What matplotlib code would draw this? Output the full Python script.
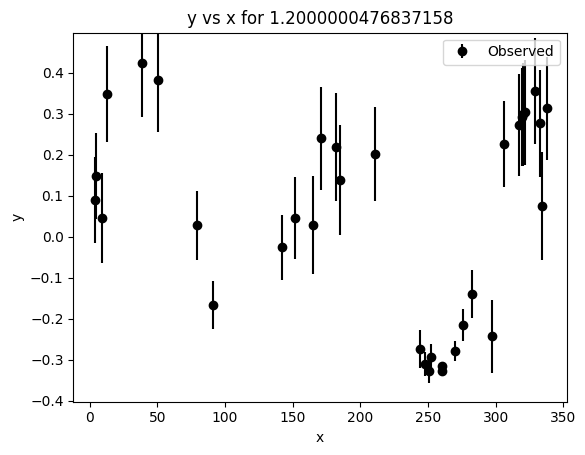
import matplotlib
matplotlib.use('Agg')
import matplotlib.pyplot as plt

# observed points
x = [3.9, 4.7, 9.3, 13.0, 38.7, 50.7, 79.5, 91.1, 142.3, 151.7, 165.0,
     171.2, 182.0, 185.2, 211.1, 244.1, 247.8, 251.0, 252.0, 260.6, 260.6,
     270.2, 275.9, 282.5, 297.5, 306.2, 317.2, 319.2, 320.5, 321.5, 329.1,
     332.8, 334.5, 337.7]
y = [0.089, 0.148, 0.045, 0.347, 0.422, 0.381, 0.028, -0.167, -0.026, 0.046,
     0.028, 0.240, 0.218, 0.137, 0.201, -0.274, -0.310, -0.326, -0.292,
     -0.315, -0.327, -0.278, -0.215, -0.140, -0.242, 0.226, 0.272, 0.292,
     0.298, 0.303, 0.355, 0.276, 0.075, 0.313]
yerr = [0.104, 0.105, 0.110, 0.117, 0.130, 0.125, 0.084, 0.058, 0.079, 0.100,
        0.119, 0.125, 0.132, 0.134, 0.115, 0.047, 0.030, 0.030, 0.030,
        0.010, 0.010, 0.025, 0.039, 0.058, 0.089, 0.105, 0.124, 0.120,
        0.125, 0.128, 0.130, 0.130, 0.132, 0.125]

fig = plt.figure(figsize=(5.85, 4.55), dpi=100)
ax = fig.add_axes([0.1253, 0.1171, 0.9687 - 0.1253, 0.9281 - 0.1171])

ax.errorbar(x, y, yerr=yerr, fmt='ko', ecolor='k', label='Observed')

ax.set_xlim(-12.1, 352.5)
ax.set_ylim(-0.402, 0.497)
ax.set_title('y vs x for 1.2000000476837158')
ax.set_xlabel('x')
ax.set_ylabel('y')
ax.legend(loc='upper right')

fig.savefig('out.png', dpi=100)
